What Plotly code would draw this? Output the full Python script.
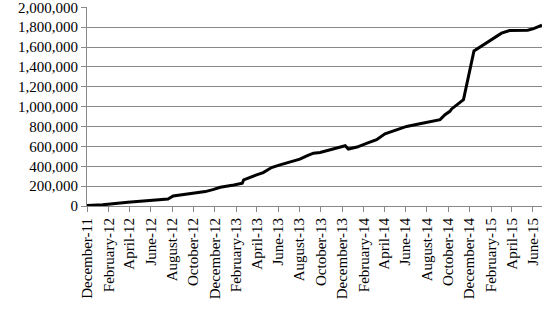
import plotly.graph_objects as go

dates = [
    "2011-12-01", "2012-01-15", "2012-03-27", "2012-06-04", "2012-07-20", "2012-08-04",
    "2012-08-30", "2012-09-28", "2012-11-04", "2012-11-28", "2012-12-17",
    "2013-01-25", "2013-02-18", "2013-02-22", "2013-03-12", "2013-03-31",
    "2013-04-19", "2013-05-13", "2013-06-06", "2013-07-04", "2013-08-02",
    "2013-08-22", "2013-09-10", "2013-09-29", "2013-10-27", "2013-11-26",
    "2013-12-10", "2013-12-19", "2014-01-13", "2014-02-11", "2014-03-10",
    "2014-04-03", "2014-05-06", "2014-06-04", "2014-07-12", "2014-08-10",
    "2014-09-08", "2014-09-22", "2014-10-06", "2014-10-11", "2014-11-14",
    "2014-12-14", "2015-01-20", "2015-03-03", "2015-03-26", "2015-05-17",
    "2015-06-03", "2015-06-27",
]
values = [
    5000, 12000, 37000, 60000, 70000, 100000,
    114000, 128000, 145000, 167000, 189000,
    212000, 229000, 263000, 290000, 313000,
    336000, 387000, 414000, 441000, 471000,
    505000, 532000, 538000, 566000, 589000,
    606000, 573000, 593000, 633000, 667000,
    727000, 768000, 801000, 828000, 845000,
    869000, 919000, 953000, 977000, 1071000,
    1560000, 1643000, 1740000, 1766000, 1770000,
    1785000, 1820000,
]

y_ticks = [0, 200000, 400000, 600000, 800000, 1000000, 1200000,
           1400000, 1600000, 1800000, 2000000]
y_labels = ["0", "200,000", "400,000", "600,000", "800,000", "1,000,000",
            "1,200,000", "1,400,000", "1,600,000", "1,800,000", "2,000,000"]

font = dict(family="Times New Roman", size=15, color="#000000")
grey = "#898989"

fig = go.Figure()
fig.add_trace(go.Scatter(
    x=dates, y=values, mode="lines",
    line=dict(color="#000000", width=3),
    showlegend=False,
))

fig.update_layout(
    width=550, height=318,
    margin=dict(l=87, r=8, t=7, b=112),
    paper_bgcolor="white", plot_bgcolor="white",
    font=font,
    xaxis=dict(
        type="date",
        range=["2011-12-01", "2015-06-27"],
        tickmode="linear", tick0="2011-12-01", dtick="M2",
        tickformat="%B-%y", tickangle=-90,
        showgrid=False, showline=True, linecolor=grey, linewidth=1,
        ticks="outside", ticklen=5, tickcolor=grey, tickwidth=1,
        tickfont=font, automargin=False,
    ),
    yaxis=dict(
        range=[0, 2003000],
        tickmode="array",
        tickvals=y_ticks,
        ticktext=y_labels,
        ticklabeloverflow="allow",
        showgrid=True, gridcolor=grey, gridwidth=1,
        zeroline=False,
        showline=True, linecolor=grey, linewidth=1,
        ticks="outside", ticklen=5, tickcolor=grey, tickwidth=1,
        tickfont=font, automargin=False,
    ),
)

fig.write_html("out.html")
